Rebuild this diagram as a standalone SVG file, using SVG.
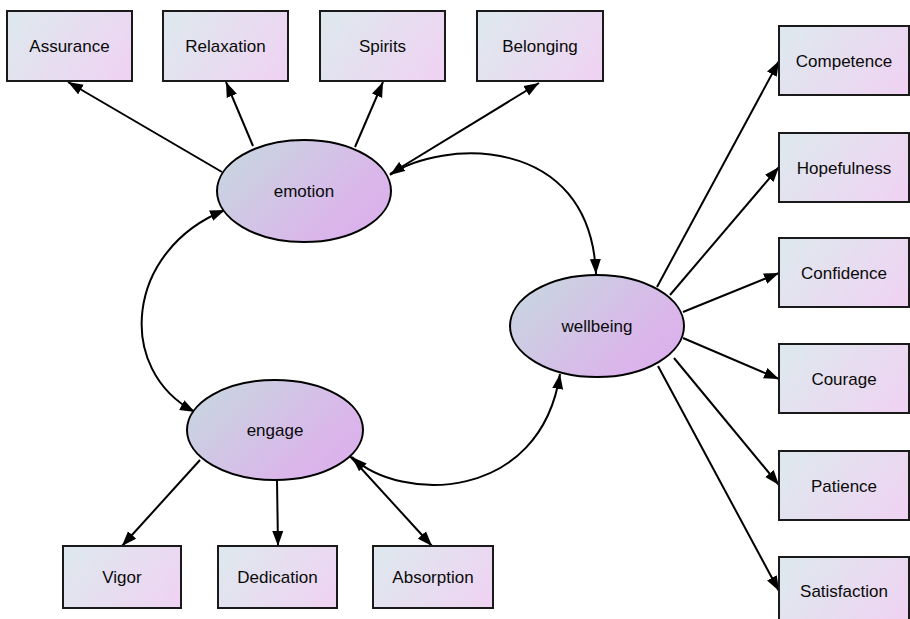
<svg xmlns="http://www.w3.org/2000/svg" width="910" height="619" viewBox="0 0 910 619">
<defs>
<linearGradient id="gBox" x1="0" y1="0.3" x2="1" y2="0.7">
<stop offset="0" stop-color="#dfe7ee"/>
<stop offset="1" stop-color="#eed4f2"/>
</linearGradient>
<linearGradient id="gEll" x1="0" y1="0.2" x2="1" y2="0.8">
<stop offset="0" stop-color="#c8d6e0"/>
<stop offset="0.75" stop-color="#dab6ea"/>
<stop offset="1" stop-color="#dcb0ec"/>
</linearGradient>
<marker id="ah" markerUnits="userSpaceOnUse" markerWidth="16" markerHeight="12" refX="15" refY="6" orient="auto-start-reverse">
<path d="M0,0.5 L15,6 L0,11.5 z" fill="#000"/>
</marker>
</defs>
<style>
.box rect{fill:url(#gBox);stroke:#1a1a1a;stroke-width:2}
.lat ellipse{fill:url(#gEll);stroke:#000;stroke-width:2}
text{font-family:"Liberation Sans",Arial,sans-serif;font-size:17px;fill:#0a0a0a;text-anchor:middle}
.conn path{fill:none;stroke:#000;stroke-width:2}
.one{marker-end:url(#ah)}
.two{marker-start:url(#ah);marker-end:url(#ah)}
</style>
<g class="conn" id="connectors">
<path class="one" d="M222,172 L68,82"/>
<path class="one" d="M253,146 L226,82"/>
<path class="one" d="M355,147 L383,82"/>
<path class="one" d="M390,174 L539,83"/>
<path class="one" d="M657,287 L779,61"/>
<path class="one" d="M670,295 L779,167"/>
<path class="one" d="M683,312 L779,273"/>
<path class="one" d="M683,338 L779,379"/>
<path class="one" d="M674,358 L779,485"/>
<path class="one" d="M658,366 L779,591"/>
<path class="one" d="M200,460 L122,546"/>
<path class="one" d="M277,480 L278,546"/>
<path class="one" d="M348,454 L432,546"/>
<path class="two" d="M390,175 C440,140 590,132 596,274"/>
<path class="two" d="M225,210 C125,250 115,370 195,412"/>
<path class="two" d="M352,457 C400,503 540,503 560,374"/>
</g>
<g class="box" id="Assurance"><rect x="7" y="11" width="125" height="70"/><text x="69.5" y="52">Assurance</text></g>
<g class="box" id="Relaxation"><rect x="163" y="11" width="125" height="70"/><text x="225.5" y="52">Relaxation</text></g>
<g class="box" id="Spirits"><rect x="320" y="11" width="125" height="70"/><text x="382.5" y="52">Spirits</text></g>
<g class="box" id="Belonging"><rect x="477" y="11" width="126" height="70"/><text x="540" y="52">Belonging</text></g>
<g class="box" id="Competence"><rect x="779" y="26" width="130" height="69"/><text x="844" y="66.5">Competence</text></g>
<g class="box" id="Hopefulness"><rect x="779" y="133" width="130" height="69"/><text x="844" y="173.5">Hopefulness</text></g>
<g class="box" id="Confidence"><rect x="779" y="238" width="130" height="69"/><text x="844" y="278.5">Confidence</text></g>
<g class="box" id="Courage"><rect x="779" y="344" width="130" height="69"/><text x="844" y="384.5">Courage</text></g>
<g class="box" id="Patience"><rect x="779" y="451" width="130" height="69"/><text x="844" y="491.5">Patience</text></g>
<g class="box" id="Satisfaction"><rect x="779" y="557" width="130" height="69"/><text x="844" y="597">Satisfaction</text></g>
<g class="box" id="Vigor"><rect x="63" y="546" width="118" height="62"/><text x="122" y="583">Vigor</text></g>
<g class="box" id="Dedication"><rect x="218" y="546" width="119" height="62"/><text x="277.5" y="583">Dedication</text></g>
<g class="box" id="Absorption"><rect x="373" y="546" width="120" height="62"/><text x="433" y="583">Absorption</text></g>
<g class="lat" id="emotion"><ellipse cx="304" cy="191" rx="87" ry="51"/><text x="304" y="197">emotion</text></g>
<g class="lat" id="wellbeing"><ellipse cx="597" cy="326" rx="87" ry="51"/><text x="597" y="332">wellbeing</text></g>
<g class="lat" id="engage"><ellipse cx="275" cy="430" rx="88" ry="50"/><text x="275" y="436">engage</text></g>
</svg>
